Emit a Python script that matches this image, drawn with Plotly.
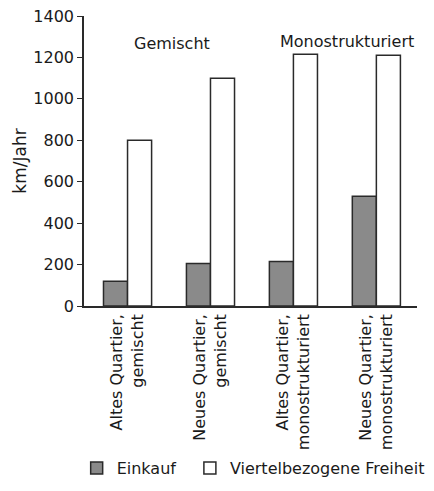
import plotly.graph_objects as go

categories = ["Altes Quartier,<br>gemischt", "Neues Quartier,<br>gemischt",
              "Altes Quartier,<br>monostrukturiert", "Neues Quartier,<br>monostrukturiert"]
einkauf = [120, 205, 215, 530]
freiheit = [800, 1100, 1215, 1210]
y_ticks = [0, 200, 400, 600, 800, 1000, 1200, 1400]
series_names = ["Einkauf", "Viertelbezogene Freiheit"]
group_labels = ["Gemischt", "Monostrukturiert"]

FONT = "DejaVu Sans, sans-serif"
TXT = "#1a1a1a"

fig = go.Figure()
fig.add_trace(go.Bar(x=categories, y=einkauf, name=series_names[0], legend="legend",
                     marker=dict(color="#8a8a8a", line=dict(color="#2a2a2a", width=1.5))))
fig.add_trace(go.Bar(x=categories, y=freiheit, name=series_names[1], legend="legend2",
                     marker=dict(color="white", line=dict(color="#2a2a2a", width=1.5))))

fig.add_annotation(x=0.53, y=1265, text=group_labels[0], showarrow=False,
                   font=dict(size=16, color=TXT, family=FONT))
fig.add_annotation(x=2.65, y=1275, text=group_labels[1], showarrow=False,
                   font=dict(size=16, color=TXT, family=FONT))

leg_common = dict(orientation="h", xanchor="left", y=-0.5, yanchor="top",
                  font=dict(size=16, color=TXT, family=FONT), bgcolor="rgba(0,0,0,0)")
fig.update_layout(
    width=426, height=483,
    margin=dict(l=76, r=4, t=8, b=185),
    paper_bgcolor="white", plot_bgcolor="white",
    barmode="group", bargap=0.42, bargroupgap=0,
    font=dict(family=FONT, size=16, color=TXT),
    showlegend=True,
    legend=dict(x=-0.022, **leg_common),
    legend2=dict(x=0.318, **leg_common),
)
fig.update_xaxes(range=[-0.525, 3.49], showline=True, linecolor="#2a2a2a", linewidth=1.5,
                 ticks="", tickangle=-90, tickfont=dict(size=16), showgrid=False,
                 automargin=False)
fig.update_yaxes(range=[0, 1400], tickvals=y_ticks, showline=True, linecolor="#2a2a2a",
                 linewidth=1.5, ticks="outside", ticklen=5, tickcolor="#2a2a2a",
                 tickfont=dict(size=16), showgrid=False, zeroline=False, automargin=False,
                 ticklabeloverflow="allow",
                 title=dict(text="km/Jahr", font=dict(size=17), standoff=2))

fig.write_html("out.html")
